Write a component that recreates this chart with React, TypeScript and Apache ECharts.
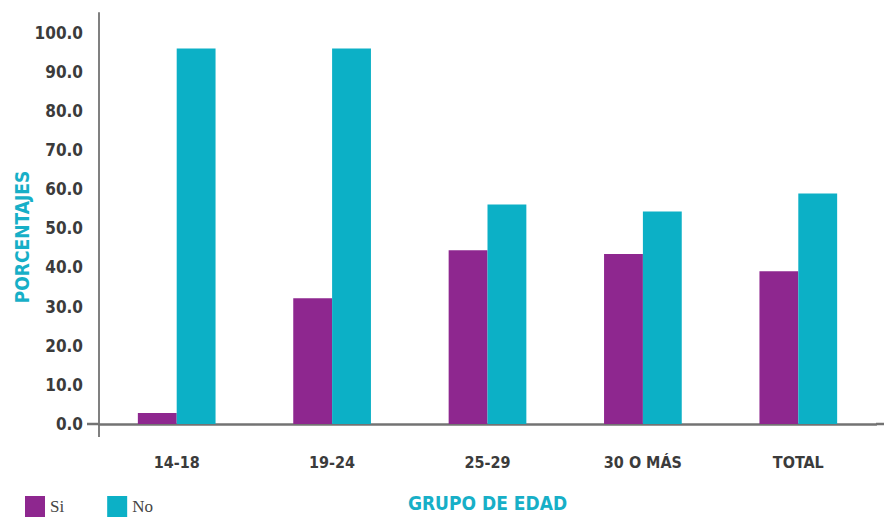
import React, { useEffect, useRef } from "react";
import * as echarts from "echarts";

const categories = ["14-18", "19-24", "25-29", "30 O MÁS", "TOTAL"];
const siValues = [2.8, 32.1, 44.4, 43.4, 39.0];
const noValues = [95.9, 95.9, 56.1, 54.3, 58.9];
const seriesNames = ["Si", "No"];
const yAxisTitle = "PORCENTAJES";
const xAxisTitle = "GRUPO DE EDAD";

const condensed = "'DejaVu Sans Condensed', 'Liberation Sans Narrow', sans-serif";

export default function App() {
  const ref = useRef<HTMLDivElement>(null);
  useEffect(() => {
    if (!ref.current) return;
    const chart = echarts.init(ref.current, undefined, { renderer: "svg" });
    chart.setOption({
      animation: false,
      grid: { left: 99, right: 8, top: 13, bottom: 94, containLabel: false },
      legend: {
        left: 20,
        top: 491,
        icon: "rect",
        itemWidth: 20,
        itemHeight: 21,
        itemGap: 43,
        textStyle: { fontFamily: "'Liberation Serif', 'DejaVu Serif', serif", fontSize: 17, color: "#444", lineHeight: 20 },
        data: seriesNames,
      },
      xAxis: {
        type: "category",
        data: categories,
        name: xAxisTitle,
        nameLocation: "middle",
        nameGap: 69,
        nameTextStyle: { fontFamily: condensed, fontWeight: "bold", fontSize: 19, color: "#17afc7" },
        axisLine: { lineStyle: { color: "#737373", width: 2.5 } },
        axisTick: { show: false },
        axisLabel: { fontFamily: condensed, fontWeight: "bold", fontSize: 16, color: "#3b3b3b", margin: 30 },
      },
      yAxis: {
        type: "value",
        min: 0,
        max: 105,
        interval: 10,
        axisLine: { show: true, lineStyle: { color: "#808080", width: 2 } },
        axisTick: { show: false },
        splitLine: { show: false },
        axisLabel: {
          fontFamily: condensed,
          fontWeight: "bold",
          fontSize: 17,
          color: "#3b3b3b",
          margin: 16,
          formatter: (v: number) => (v % 10 === 0 ? v.toFixed(1) : ""),
        },
      },
      graphic: [
        {
          type: "line",
          shape: { x1: 87, y1: 424, x2: 99, y2: 424 },
          style: { stroke: "#737373", lineWidth: 2.5 },
        },
        {
          type: "line",
          shape: { x1: 99, y1: 424, x2: 99, y2: 437 },
          style: { stroke: "#808080", lineWidth: 2 },
        },
        {
          type: "line",
          shape: { x1: 876, y1: 424, x2: 884, y2: 424 },
          style: { stroke: "#737373", lineWidth: 2.5 },
        },
        {
          type: "text",
          x: 22,
          y: 237,
          rotation: Math.PI / 2,
          style: {
            text: yAxisTitle,
            fontFamily: condensed,
            fontWeight: "bold",
            fontSize: 19,
            fill: "#17afc7",
            textAlign: "center",
            textVerticalAlign: "middle",
          },
        },
      ],
      series: [
        {
          name: seriesNames[0],
          type: "bar",
          data: siValues,
          barWidth: "25%",
          barGap: "0%",
          itemStyle: { color: "#8e278f" },
        },
        {
          name: seriesNames[1],
          type: "bar",
          data: noValues,
          barWidth: "25%",
          barGap: "0%",
          itemStyle: { color: "#0cb0c6" },
        },
      ],
    });
    return () => chart.dispose();
  }, []);
  return <div ref={ref} style={{ width: 884, height: 518, position: "absolute", left: 0, top: 0 }} />;
}
